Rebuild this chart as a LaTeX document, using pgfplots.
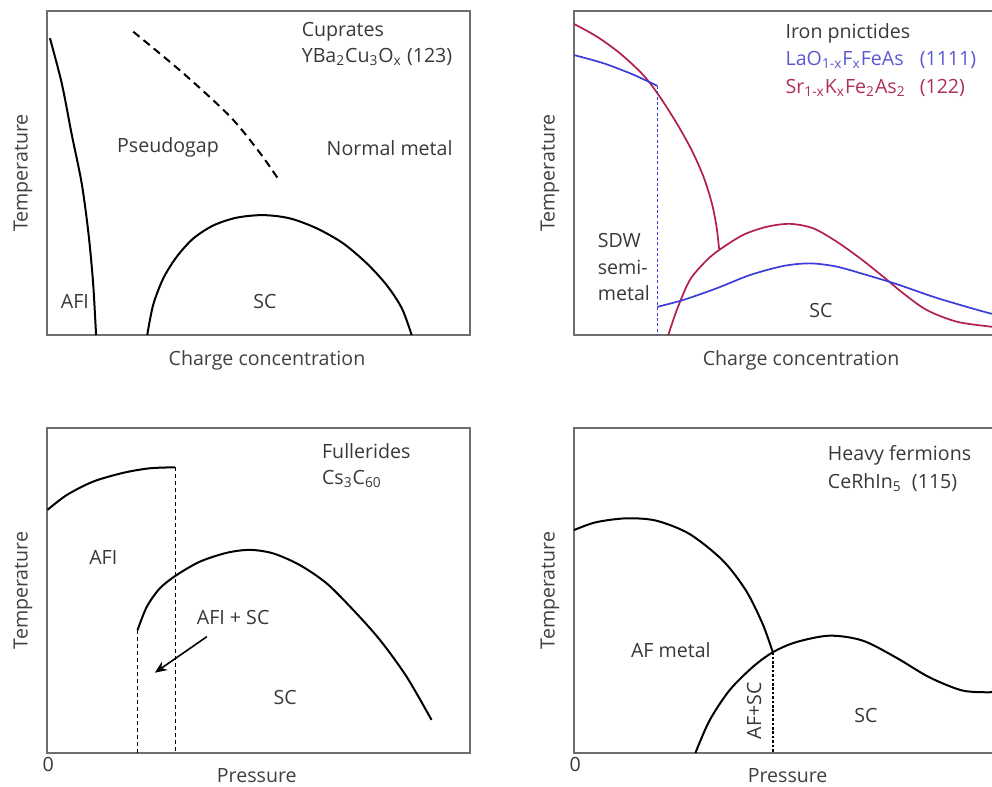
\documentclass[border=0pt]{standalone}
\usepackage{fontspec}
\setmainfont{Open Sans}
\usepackage{pgfplots}
\pgfplotsset{compat=1.18}
\usetikzlibrary{arrows.meta}

\definecolor{axgray}{HTML}{6E6E6E}
\definecolor{redline}{HTML}{B0204A}
\definecolor{blueline}{HTML}{3C3CD8}
\definecolor{bluetext}{HTML}{5A5AD0}
\definecolor{redtext}{HTML}{B03055}

\tikzset{lbl/.style={font=\fontsize{9.8}{12}\selectfont, text=black!78}}
\pgfplotsset{
  panel/.style={
    scale only axis, width=211.5pt,
    xmin=0, xmax=100, ymin=0, ymax=100,
    axis line style={axgray, line width=0.75pt},
    ticks=none, clip=false,
    ylabel={Temperature},
    ylabel style={at={(axis description cs:-0.057,0.5)}, anchor=center, text=black!75},
    xlabel style={anchor=center, text=black!75},
    every axis plot/.append style={smooth, line width=1pt},
  },
}

\begin{document}
\fontsize{9.8}{12}\selectfont
\begin{tikzpicture}
\useasboundingbox (0,0) rectangle (496pt,393.5pt);

% ---- cuprates ----
\begin{axis}[panel, at={(23.5pt,226pt)}, anchor=south west, height=162pt,
  xlabel={Charge concentration},
  xlabel style={at={(axis description cs:0.52,-0.077)}}]
\addplot[black] coordinates {(0.7,91.6)(3.5,77.6)(5.8,62.2)(8.2,46.8)(9.8,31.4)(10.9,16.0)(11.6,0)};
\addplot[black, dash pattern=on 4pt off 2.6pt] coordinates {(20.4,93.6)(32.2,80.8)(43.3,67.4)(50.4,56.1)(55.1,47.3)};
\addplot[black] coordinates {(23.7,0)(25.1,9.3)(27.5,17.5)(30.7,24.2)(34.6,29.8)(39.3,33.8)(44.8,36.2)(51.1,37.0)(57.4,36.0)(63.8,32.9)(70.0,28.3)(75.6,22.1)(80.3,15.4)(83.9,8.2)(86.2,0)};
\node[lbl, anchor=west] at (axis cs:58.6,93.5) {Cuprates};
\node[lbl, anchor=west] at (axis cs:58.6,85.8) {YBa\textsubscript{2}Cu\textsubscript{3}O\textsubscript{x} (123)};
\node[lbl] at (axis cs:28.6,58) {Pseudogap};
\node[lbl] at (axis cs:81,57.7) {Normal metal};
\node[lbl] at (axis cs:6.6,10.2) {AFI};
\node[lbl] at (axis cs:51.5,10.2) {SC};
\end{axis}

% ---- iron pnictides ----
\begin{axis}[panel, at={(287pt,226pt)}, anchor=south west, height=162pt,
  xlabel={Charge concentration},
  xlabel style={at={(axis description cs:0.537,-0.077)}}]
\addplot[redline, line width=0.85pt] coordinates {(0,96.0)(5.4,92.1)(10.9,86.9)(16.4,80.2)(20.3,73.5)(24.3,65.3)(27.8,57.1)(30.6,48.9)(32.6,40.6)(33.7,33.4)(34.3,26.6)};
\addplot[redline, line width=0.85pt] coordinates {(22.3,0)(24.3,7.7)(27.4,17.0)(31.4,23.1)(34.5,26.4)(40.0,30.9)(45.6,33.4)(51.1,34.3)(56.6,32.9)(62.1,28.8)(67.6,23.7)(73.1,18.0)(77.8,12.9)(83.4,7.7)(90.5,4.1)(98.3,2.6)(100,2.4)};
\addplot[blueline, line width=0.85pt] coordinates {(0,86.4)(6.9,83.9)(13.2,80.8)(16.8,78.7)(19.7,76.9)};
\addplot[blueline, sharp plot, line width=0.5pt, dash pattern=on 1.5pt off 1.2pt] coordinates {(19.7,76.9)(19.7,0)};
\addplot[blueline, line width=0.85pt] coordinates {(19.7,8.7)(25.8,10.8)(33.7,14.4)(41.6,18.5)(49.5,21.3)(55.8,22.1)(62.1,21.1)(69.2,18.5)(76.3,15.7)(84.9,11.8)(92.8,8.7)(98.3,6.7)(100,6.3)};
\node[lbl, anchor=west] at (axis cs:48.4,93.1) {Iron pnictides};
\node[lbl, anchor=west, text=bluetext] at (axis cs:48.4,84.9) {LaO\textsubscript{1-x}F\textsubscript{x}FeAs};
\node[lbl, anchor=west, text=bluetext] at (axis cs:80.1,84.9) {(1111)};
\node[lbl, anchor=west, text=redtext] at (axis cs:48.4,76.4) {Sr\textsubscript{1-x}K\textsubscript{x}Fe\textsubscript{2}As\textsubscript{2}};
\node[lbl, anchor=west, text=redtext] at (axis cs:80.1,76.4) {(122)};
\node[lbl, anchor=west] at (axis cs:4.0,29.3) {SDW};
\node[lbl, anchor=west] at (axis cs:4.0,21.0) {semi-};
\node[lbl, anchor=west] at (axis cs:4.0,12.9) {metal};
\node[lbl] at (axis cs:58.4,7.7) {SC};
\end{axis}

% ---- fullerides ----
\begin{axis}[panel, at={(23.5pt,17pt)}, anchor=south west, height=162.5pt,
  xlabel={Pressure},
  xlabel style={at={(axis description cs:0.496,-0.07)}}]
\addplot[black] coordinates {(0.1,74.8)(4.7,79.4)(10.9,83.5)(18.0,86.2)(24.3,87.6)(30.3,87.9)};
\addplot[black, sharp plot, line width=0.5pt, dash pattern=on 2pt off 1.5pt] coordinates {(30.3,87.9)(30.3,0)};
\addplot[black, sharp plot, line width=0.5pt, dash pattern=on 2pt off 1.5pt] coordinates {(21.4,37.8)(21.4,0)};
\addplot[black] coordinates {(21.4,37.8)(23.6,45.0)(26.7,50.7)(30.7,54.8)(36.2,58.9)(42.5,61.6)(48.0,62.5)(53.5,61.4)(59.8,57.8)(66.1,52.2)(72.4,44.0)(78.7,34.8)(85.0,23.5)(90.9,10.2)};
\draw[-{Stealth[length=6pt, width=5pt]}, line width=0.8pt] (axis cs:37.8,35.8) -- (axis cs:25.5,24.7);
\node[lbl, anchor=west] at (axis cs:63.4,93.0) {Fullerides};
\node[lbl, anchor=west] at (axis cs:63.4,84.3) {Cs\textsubscript{3}C\textsubscript{60}};
\node[lbl] at (axis cs:13.3,60.2) {AFI};
\node[lbl] at (axis cs:44.0,41.8) {AFI + SC};
\node[lbl] at (axis cs:56.3,17.1) {SC};
\node[lbl] at (axis cs:0.3,-3.4) {0};
\end{axis}

% ---- heavy fermions ----
\begin{axis}[panel, at={(287pt,17pt)}, anchor=south west, height=162.5pt,
  xlabel={Pressure},
  xlabel style={at={(axis description cs:0.505,-0.07)}}]
\addplot[black] coordinates {(0,68.6)(5.2,71.0)(12.3,72.2)(19.4,71.5)(27.3,67.4)(35.2,59.2)(40.7,49.9)(44.6,39.7)(47.0,31.0)};
\addplot[black] coordinates {(28.7,0)(32.0,9.9)(36.7,19.2)(42.2,26.4)(47.0,31.0)(52.5,34.1)(60.4,36.1)(68.2,34.6)(76.1,29.4)(84.0,23.3)(91.9,19.2)(98.8,18.7)};
\addplot[black, sharp plot, line width=0.8pt, dash pattern=on 1.3pt off 0.9pt] coordinates {(47.0,31.0)(47.0,0)};
\node[lbl, anchor=west] at (axis cs:58.4,91.5) {Heavy fermions};
\node[lbl, anchor=west] at (axis cs:58.4,83.3) {CeRhIn\textsubscript{5}\ \ (115)};
\node[lbl] at (axis cs:22.9,31.5) {AF metal};
\node[lbl, rotate=90] at (axis cs:42.6,13.0) {AF+SC};
\node[lbl] at (axis cs:69.0,11.5) {SC};
\node[lbl] at (axis cs:0.3,-3.4) {0};
\end{axis}
\end{tikzpicture}
\end{document}
